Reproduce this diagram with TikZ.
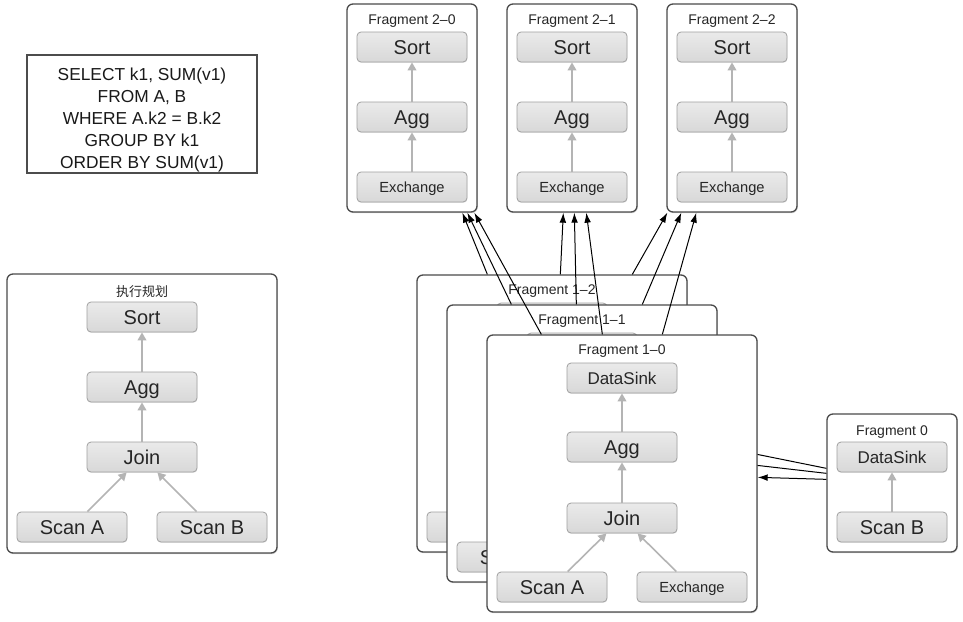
\documentclass[tikz,border=0pt]{standalone}
\usepackage{fontspec}
\setmainfont{Liberation Sans}
\newfontfamily\cjk{Noto Sans CJK SC}
\usetikzlibrary{arrows.meta,shadows,fit,calc}
\definecolor{framecol}{HTML}{4A4A4A}
\definecolor{opborder}{HTML}{A0A0A0}
\definecolor{optop}{HTML}{EAEAEA}
\definecolor{opbot}{HTML}{D8D8D8}
\definecolor{optext}{HTML}{262626}
\definecolor{flowcol}{HTML}{B4B4B4}
\tikzset{
  frag/.style={draw=framecol, line width=1pt, rounded corners=4.5pt, fill=white, inner sep=0pt,
    drop shadow={shadow xshift=0.6pt, shadow yshift=-0.9pt, opacity=0.3}},
  op/.style={draw=opborder, line width=0.6pt, rounded corners=3pt, top color=optop, bottom color=opbot,
    minimum width=82.5pt, minimum height=22.5pt, inner sep=0pt, text=optext,
    font=\fontsize{15}{18}\selectfont, text height=10.7pt, text depth=0pt,
    drop shadow={shadow xshift=0.3pt, shadow yshift=-0.7pt, opacity=0.18}},
  opmid/.style={font=\fontsize{12.75}{15}\selectfont, text height=9.1pt},
  opsm/.style={font=\fontsize{11}{13}\selectfont, text height=7.9pt},
  ttl/.style={inner sep=0pt, text=black!85, font=\fontsize{10.5}{12}\selectfont},
  flow/.style={draw=flowcol, line width=1.2pt, -{Triangle[length=6pt,width=6.5pt]}},
  ship/.style={draw=black, line width=0.75pt, -{Latex[length=7.5pt,width=5pt]}},
}
% #1 name, #2 dx, #3 dy, #4 label, #5..#9 texts of DataSink, Agg, Join, Scan A, Exchange
\newcommand\FragOne[9]{%
  \node[frag, fit={({487+#2},{335+#3}) ({757+#2},{612+#3})}] (#1) {};
  \node[ttl] (#1t) at ({622+#2},{351+#3}) {#4};
  \node[op, opmid] (#1ds) at ({622+#2},{378+#3}) {#5};
  \node[op] (#1ag) at ({622+#2},{447+#3}) {#6};
  \node[op] (#1jn) at ({622+#2},{518+#3}) {#7};
  \node[op] (#1sa) at ({552+#2},{587+#3}) {#8};
  \node[op, opsm] (#1ex) at ({692+#2},{587+#3}) {#9};
  \draw[flow] (#1ag) -- (#1ds);
  \draw[flow] (#1jn) -- (#1ag);
  \draw[flow] (#1sa) -- (#1jn);
  \draw[flow] (#1ex) -- (#1jn);
}
\newcommand\FragTwo[3]{%
  \node[frag, fit={({347+#2},4) ({477+#2},212)}] (#1) {};
  \node[ttl] (#1t) at ({412+#2},21) {Fragment #3};
  \node[op] (#1so) at ({412+#2},47) {Sort};
  \node[op] (#1ag) at ({412+#2},117) {Agg};
  \node[op, opsm] (#1ex) at ({412+#2},187) {Exchange};
  \draw[flow] (#1ag) -- (#1so);
  \draw[flow] (#1ex) -- (#1ag);
}
\begin{document}
\begin{tikzpicture}[x=0.75pt,y=-0.75pt]
\useasboundingbox (0,0) rectangle (963,621);
\fill[white] (0,0) rectangle (963,621);

% SQL text
\node[draw=black!70, line width=0.8pt, fit={(27,55) (257,173)}, inner sep=0pt] (sql) {};
\node[align=center, inner sep=0pt, text=black!90, font=\fontsize{13}{16.5}\selectfont] (sqltext) at (142,120.5)
  {SELECT k1, SUM(v1)\\FROM A, B\\WHERE A.k2 = B.k2\\GROUP BY k1\\ORDER BY SUM(v1)};

% logical plan
\node[frag, fit={(7,274) (277,553)}] (plan) {};
\node[ttl, font=\cjk\fontsize{9.75}{12}\selectfont] (plant) at (142,292) {执行规划};
\node[op] (pso) at (142,317) {Sort};
\node[op] (pag) at (142,387) {Agg};
\node[op] (pjn) at (142,457) {Join};
\node[op] (psa) at (72,527) {Scan A};
\node[op] (psb) at (212,527) {Scan B};
\draw[flow] (pag) -- (pso);
\draw[flow] (pjn) -- (pag);
\draw[flow] (psa) -- (pjn);
\draw[flow] (psb) -- (pjn);

% fragments 2-x
\FragTwo{fa0}{0}{2–0}
\FragTwo{fa1}{160}{2–1}
\FragTwo{fa2}{320}{2–2}

% fragment 0
\node[frag, fit={(827,414) (957,552)}] (fc) {};
\node[ttl] (fct) at (892,432) {Fragment 0};
\node[op, opmid] (fcds) at (892,457) {DataSink};
\node[op] (fcsb) at (892,527) {Scan B};
\draw[flow] (fcsb) -- (fcds);

% fragment 1-2 (mostly hidden)
\FragOne{fb2}{-70}{-60}{Fragment 1–2}{}{}{}{}{}
\draw[ship] ($(fb2.north west)+(71,0)$) -- ($(fa0.south west)+(116,0)$);
\draw[ship] ($(fb2.north west)+(144,0)$) -- ($(fa1.south west)+(57,0)$);
\draw[ship] ($(fb2.north west)+(216,0)$) -- ($(fa2.south west)+(1,0)$);
\draw[ship] ($(fc.north west)+(0,55)$) -- ($(fb2.north east)+(0,166)$);

% fragment 1-1 (mostly hidden)
\FragOne{fb1}{-40}{-30}{Fragment 1–1}{}{}{}{Scan A}{}
\draw[ship] ($(fb1.north west)+(65,0)$) -- ($(fa0.south west)+(121,0)$);
\draw[ship] ($(fb1.north west)+(130,0)$) -- ($(fa1.south west)+(68,0)$);
\draw[ship] ($(fb1.north west)+(196,0)$) -- ($(fa2.south west)+(15,0)$);
\draw[ship] ($(fc.north west)+(0,60)$) -- ($(fb1.north east)+(0,156.5)$);

% fragment 1-0
\FragOne{fb0}{0}{0}{Fragment 1–0}{DataSink}{Agg}{Join}{Scan A}{Exchange}
\draw[ship] ($(fb0.north west)+(55,0)$) -- ($(fa0.south west)+(128,0)$);
\draw[ship] ($(fb0.north west)+(116,0)$) -- ($(fa1.south west)+(80,0)$);
\draw[ship] ($(fb0.north west)+(176,0)$) -- ($(fa2.south west)+(30,0)$);
\draw[ship] ($(fc.north west)+(0,66)$) -- ($(fb0.north east)+(0,143)$);
\end{tikzpicture}
\end{document}
